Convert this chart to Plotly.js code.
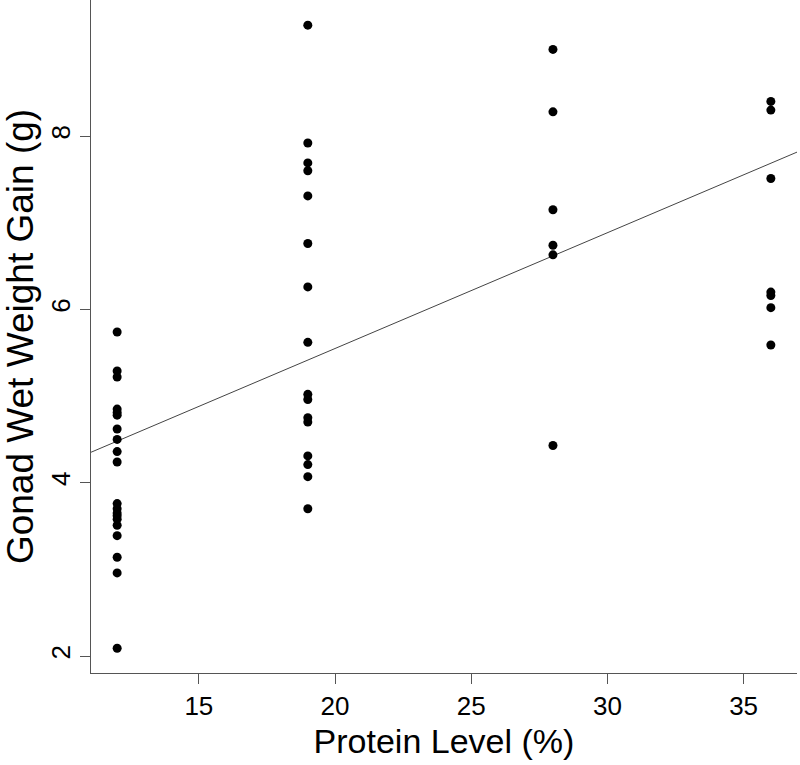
<!DOCTYPE html>
<html>
<head>
<meta charset="utf-8">
<script src="https://cdn.plot.ly/plotly-3.0.1.min.js"></script>
<style>
  html, body { margin: 0; padding: 0; background: #fff; }
  #chart { width: 800px; height: 765px; }
</style>
</head>
<body>
<div id="chart"></div>
<script>
// protein levels (%) and the gonad gain read at each level
const proteinLevels = [12, 19, 28, 36];
const gain12 = [5.74, 5.29, 5.22, 4.85, 4.81, 4.78, 4.62, 4.50, 4.36, 4.24,
                3.76, 3.70, 3.65, 3.62, 3.58, 3.51, 3.39, 3.14, 2.96, 2.09];
const gain19 = [9.28, 7.92, 7.69, 7.60, 7.31, 6.76, 6.26, 5.62,
                5.02, 4.96, 4.75, 4.70, 4.31, 4.21, 4.07, 3.70];
const gain28 = [9.00, 8.28, 7.15, 6.74, 6.63, 4.43];
const gain36 = [8.40, 8.30, 7.51, 6.20, 6.16, 6.02, 5.59];

// fitted line
const fitIntercept = 2.877;
const fitSlope = 0.1336;

const groups = [gain12, gain19, gain28, gain36];
const xs = [];
const ys = [];
groups.forEach((g, i) => {
    g.forEach(v => { xs.push(proteinLevels[i]); ys.push(v); });
});

const xRange = [11.04, 36.96];
const yRange = [1.805, 9.57];

const points = {
    x: xs,
    y: ys,
    mode: 'markers',
    type: 'scatter',
    hoverinfo: 'x+y',
    marker: { color: 'black', size: 9 },
    showlegend: false
};

const fitLine = {
    x: xRange,
    y: xRange.map(x => fitIntercept + fitSlope * x),
    mode: 'lines',
    type: 'scatter',
    hoverinfo: 'skip',
    line: { color: '#444', width: 1 },
    showlegend: false
};

const fontFamily = '"Liberation Sans", Arial, sans-serif';

const layout = {
    width: 800,
    height: 765,
    margin: { l: 91, r: 3, t: 0, b: 92 },
    paper_bgcolor: 'white',
    plot_bgcolor: 'white',
    font: { family: fontFamily, color: 'black' },
    xaxis: {
        range: xRange,
        showgrid: false,
        zeroline: false,
        showline: true,
        linecolor: '#555',
        linewidth: 1,
        ticks: 'outside',
        ticklen: 10,
        tickcolor: '#555',
        tickvals: [15, 20, 25, 30, 35],
        tickfont: { size: 26, family: fontFamily },
        title: { text: 'Protein Level (%)', font: { size: 34, family: fontFamily }, standoff: 8 }
    },
    yaxis: {
        range: yRange,
        showgrid: false,
        zeroline: false,
        showline: true,
        linecolor: '#555',
        linewidth: 1,
        ticks: 'outside',
        ticklen: 10,
        tickcolor: '#555',
        tickvals: [2, 4, 6, 8],
        tickangle: -90,
        tickfont: { size: 26, family: fontFamily },
        title: { text: 'Gonad Wet Weight Gain (g)', font: { size: 37, family: fontFamily }, standoff: 10 }
    }
};

Plotly.newPlot('chart', [fitLine, points], layout, { displayModeBar: false, staticPlot: true });
</script>
</body>
</html>
